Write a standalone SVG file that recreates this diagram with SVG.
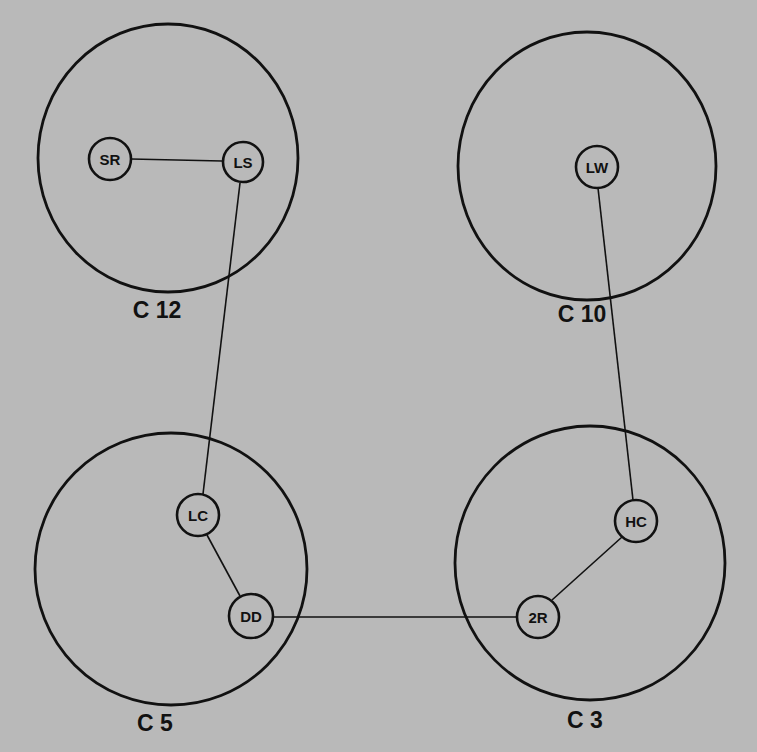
<svg xmlns="http://www.w3.org/2000/svg" width="757" height="752" viewBox="0 0 757 752">
<style>
.big{fill:none;stroke:#111;stroke-width:2.8}
.node circle{fill:none;stroke:#111;stroke-width:2.6}
.node text{font-family:"Liberation Sans",Arial,sans-serif;font-weight:bold;font-size:15px;fill:#111;text-anchor:middle;dominant-baseline:central}
.lbl{font-family:"Liberation Sans",Arial,sans-serif;font-weight:bold;font-size:23px;fill:#111;text-anchor:middle}
.edges line{stroke:#111;stroke-width:1.6}
</style>
<rect width="757" height="752" fill="#b9b9b9"/>
<g id="C12"><ellipse class="big" cx="168" cy="158" rx="130" ry="134"/><text class="lbl" x="157" y="318">C 12</text></g>
<g id="C10"><ellipse class="big" cx="587" cy="166" rx="129" ry="134"/><text class="lbl" x="582" y="322">C 10</text></g>
<g id="C5"><ellipse class="big" cx="171" cy="569" rx="136" ry="136"/><text class="lbl" x="155" y="731">C 5</text></g>
<g id="C3"><ellipse class="big" cx="590" cy="563" rx="135" ry="137"/><text class="lbl" x="585" y="728">C 3</text></g>
<g class="edges">
<line x1="131" y1="159" x2="222" y2="161"/>
<line x1="240" y1="183" x2="203" y2="494"/>
<line x1="598" y1="188" x2="633" y2="500"/>
<line x1="207" y1="535" x2="240" y2="596"/>
<line x1="273" y1="617" x2="517" y2="617"/>
<line x1="622" y1="537" x2="552" y2="600"/>
</g>
<g id="SR" class="node"><circle cx="110" cy="159" r="21"/><text x="110" y="159">SR</text></g>
<g id="LS" class="node"><circle cx="243" cy="162" r="20"/><text x="243" y="162">LS</text></g>
<g id="LW" class="node"><circle cx="597" cy="167" r="21"/><text x="597" y="167">LW</text></g>
<g id="LC" class="node"><circle cx="198" cy="515" r="21"/><text x="198" y="515">LC</text></g>
<g id="DD" class="node"><circle cx="251" cy="616" r="22"/><text x="251" y="616">DD</text></g>
<g id="HC" class="node"><circle cx="636" cy="521" r="21"/><text x="636" y="521">HC</text></g>
<g id="2R" class="node"><circle cx="538" cy="617" r="21"/><text x="538" y="617">2R</text></g>
</svg>
